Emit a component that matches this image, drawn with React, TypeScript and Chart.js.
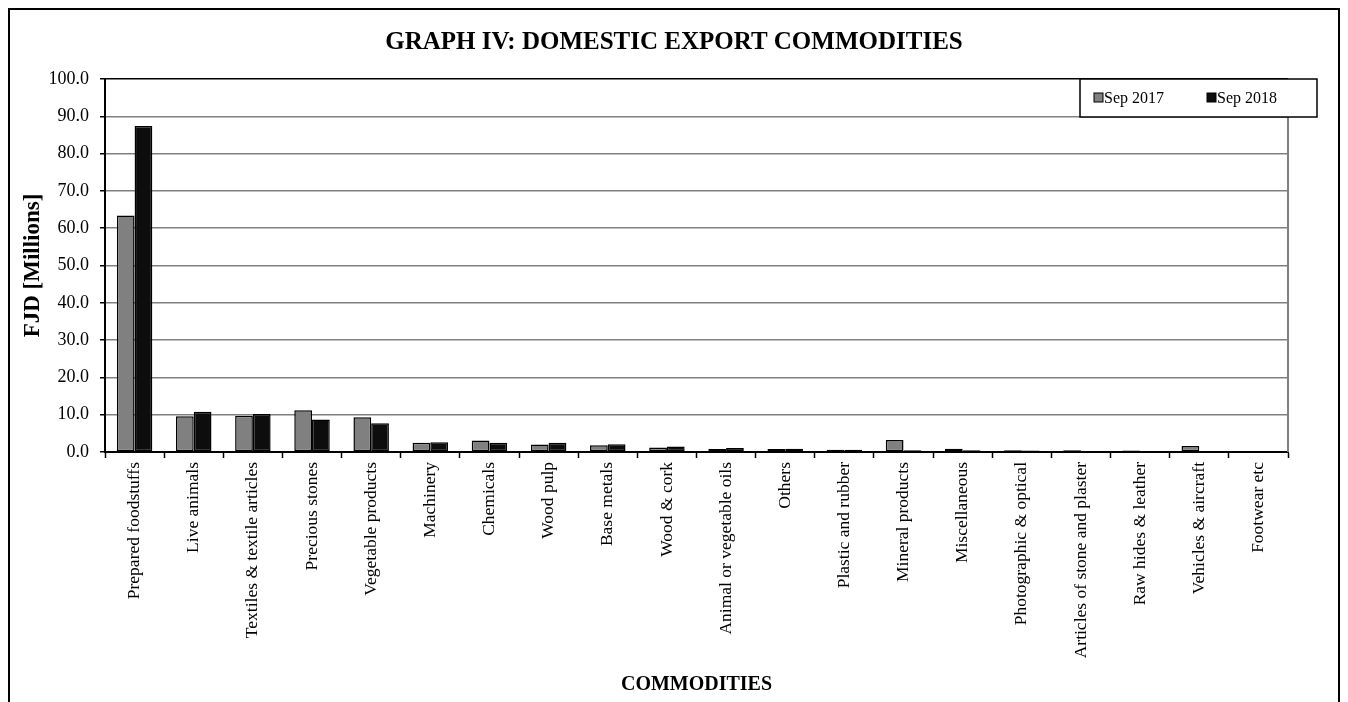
import React, { useEffect, useRef } from "react";
import { Chart, registerables } from "chart.js";

Chart.register(...registerables);

const categories = [
  "Prepared foodstuffs",
  "Live animals",
  "Textiles & textile articles",
  "Precious stones",
  "Vegetable products",
  "Machinery",
  "Chemicals",
  "Wood pulp",
  "Base metals",
  "Wood & cork",
  "Animal or vegetable oils",
  "Others",
  "Plastic and rubber",
  "Mineral products",
  "Miscellaneous",
  "Photographic & optical",
  "Articles of stone and plaster",
  "Raw hides & leather",
  "Vehicles & aircraft",
  "Footwear etc",
];

const sep2017 = [63.4, 9.6, 9.7, 11.2, 9.3, 2.5, 3.1, 2.0, 1.8, 1.2, 0.8, 0.8, 0.6, 3.2, 0.9, 0.5, 0.5, 0.4, 1.6, 0.3];
const sep2018 = [87.4, 10.8, 10.2, 8.7, 7.7, 2.6, 2.5, 2.5, 2.1, 1.5, 1.1, 0.9, 0.6, 0.5, 0.5, 0.4, 0.2, 0.3, 0.2, 0.2];

const seriesLabels = ["Sep 2017", "Sep 2018"];
const seriesColors = ["#808080", "#0d0d0d"];
const chartTitle = "GRAPH IV: DOMESTIC EXPORT COMMODITIES";
const yTitle = "FJD [Millions]";
const xTitle = "COMMODITIES";

const FONT = "'Liberation Serif', 'Times New Roman', serif";

const frameAndLegend = {
  id: "frameAndLegend",
  afterDraw(chart: any) {
    const ctx = chart.ctx;
    const area = chart.chartArea;
    ctx.save();
    // outer frame
    ctx.strokeStyle = "#000";
    ctx.lineWidth = 2;
    ctx.strokeRect(1, 1, chart.width - 2, chart.height + 20);
    // title centred on the whole frame
    ctx.fillStyle = "#000";
    ctx.font = "bold 25px " + FONT;
    ctx.textAlign = "center";
    ctx.textBaseline = "middle";
    ctx.fillText(chartTitle, chart.width / 2, 35);
    // y axis title
    ctx.save();
    ctx.translate(25, (area.top + area.bottom) / 2);
    ctx.rotate(-Math.PI / 2);
    ctx.font = "bold 23px " + FONT;
    ctx.fillText(yTitle, 0, 0);
    ctx.restore();
    // x axis title
    ctx.font = "bold 20px " + FONT;
    ctx.fillText(xTitle, (area.left + area.right) / 2, 677);
    // right border of plot area
    ctx.strokeStyle = "#808080";
    ctx.lineWidth = 2;
    ctx.beginPath();
    ctx.moveTo(area.right, area.top);
    ctx.lineTo(area.right, area.bottom);
    ctx.stroke();
    // legend box
    const bw = 237;
    const bh = 38;
    const bx = area.right + 29 - bw;
    const by = area.top;
    ctx.fillStyle = "#fff";
    ctx.fillRect(bx, by, bw, bh);
    ctx.strokeStyle = "#000";
    ctx.lineWidth = 1.5;
    ctx.strokeRect(bx, by, bw, bh);
    ctx.font = "16px " + FONT;
    ctx.textBaseline = "middle";
    const items = chart.data.datasets;
    const xs = [bx + 14, bx + 127];
    items.forEach((ds: any, i: number) => {
      const x = xs[i];
      const y = by + bh / 2;
      ctx.fillStyle = ds.backgroundColor;
      ctx.fillRect(x, y - 5, 9, 9);
      ctx.strokeStyle = "#000";
      ctx.lineWidth = 1;
      ctx.strokeRect(x, y - 5, 9, 9);
      ctx.fillStyle = "#000";
      ctx.textAlign = "left";
      ctx.fillText(ds.label, x + 10, y + 1);
    });
    ctx.restore();
  },
};

export default function App() {
  const ref = useRef<HTMLCanvasElement>(null);
  useEffect(() => {
    if (!ref.current) return;
    const chart = new Chart(ref.current, {
      type: "bar",
      data: {
        labels: categories,
        datasets: [
          {
            label: seriesLabels[0],
            data: sep2017,
            backgroundColor: seriesColors[0],
            borderColor: "#000",
            borderWidth: 1.5,
            borderSkipped: false,
            categoryPercentage: 0.6,
            barPercentage: 1,
          },
          {
            label: seriesLabels[1],
            data: sep2018,
            backgroundColor: seriesColors[1],
            borderColor: "#000",
            borderWidth: 1.5,
            borderSkipped: false,
            categoryPercentage: 0.6,
            barPercentage: 1,
          },
        ],
      },
      plugins: [frameAndLegend],
      options: {
        responsive: false,
        animation: false,
        devicePixelRatio: 1,
        layout: { padding: { top: 71, right: 52, bottom: 0, left: 0 } },
        plugins: {
          legend: { display: false },
          tooltip: { enabled: false },
          title: { display: false },
        },
        scales: {
          x: {
            offset: true,
            afterFit: (s: any) => {
              s.height = 250;
            },
            grid: {
              offset: true,
              drawOnChartArea: false,
              drawTicks: true,
              tickLength: 6,
              tickColor: "#000",
              tickWidth: 1.5,
            },
            border: { color: "#000", width: 2 },
            ticks: {
              color: "#000",
              font: { family: FONT, size: 17.5 },
              minRotation: 90,
              maxRotation: 90,
              autoSkip: false,
              padding: 4,
            },
          },
          y: {
            min: 0,
            max: 100,
            afterFit: (s: any) => {
              s.width = 97;
            },
            grid: {
              color: (c: any) => (c.tick && c.tick.value === 100 ? "#000" : "#808080"),
              lineWidth: 1.5,
              tickLength: 5,
              tickColor: "#000",
              tickWidth: 1.5,
            },
            border: { color: "#000", width: 2 },
            ticks: {
              stepSize: 10,
              color: "#000",
              font: { family: FONT, size: 18 },
              padding: 11,
              callback: (v: any) => Number(v).toFixed(1),
            },
          },
        },
      },
    });
    return () => chart.destroy();
  }, []);
  return (
    <div style={{ width: 1332, height: 694 }}>
      <canvas ref={ref} width={1332} height={694} style={{ display: "block" }} />
    </div>
  );
}
